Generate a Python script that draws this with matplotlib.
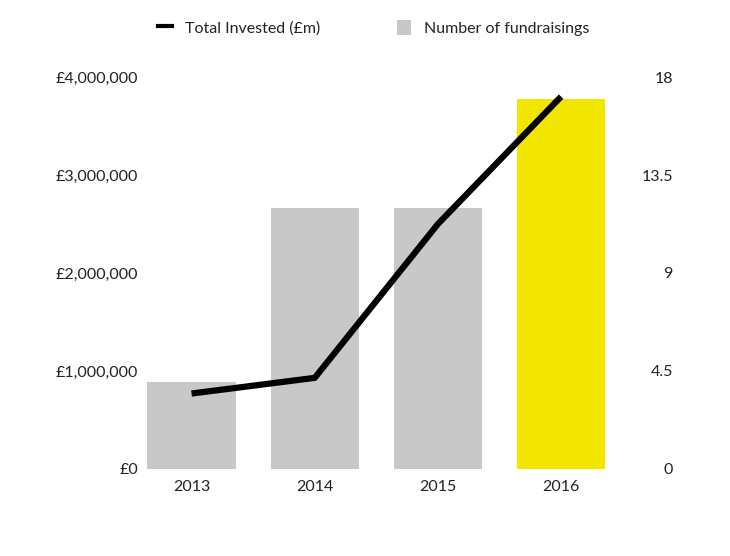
import matplotlib
matplotlib.use("Agg")
import matplotlib.pyplot as plt
from matplotlib.ticker import FuncFormatter

plt.rcParams['font.family'] = ['Lato', 'DejaVu Sans']

years = ['2013', '2014', '2015', '2016']
fundraisings = [4, 12, 12, 17]
invested = [770000, 930000, 2500000, 3800000]
bar_colors = ['#c8c8c8', '#c8c8c8', '#c8c8c8', '#f2e600']

fig = plt.figure(figsize=(7.3, 5.56), dpi=100)
ax = fig.add_axes([0.178, 0.1565, 0.675, 0.705])
ax2 = ax.twinx()

x = range(len(years))
bars = ax2.bar(x, fundraisings, width=0.715, color=bar_colors, zorder=1,
               label='Number of fundraisings')
line, = ax.plot(x, invested, color='black', lw=4.5, solid_capstyle='butt',
                zorder=3, label='Total Invested (£m)')
ax.set_zorder(ax2.get_zorder() + 1)
ax.patch.set_visible(False)

ax.set_xlim(-0.5, 3.5)
ax.set_ylim(0, 4000000)
ax.set_yticks([0, 1000000, 2000000, 3000000, 4000000])
ax.yaxis.set_major_formatter(FuncFormatter(lambda v, p: '£{:,.0f}'.format(v)))
ax2.set_ylim(0, 18)
ax2.set_yticks([0, 4.5, 9, 13.5, 18])
ax2.set_yticklabels(['0', '4.5', '9', '13.5', '18'], ha='right')
ax.set_xticks(list(x))
ax.set_xticklabels(years)

txt = '#222222'
for a in (ax, ax2):
    for s in a.spines.values():
        s.set_visible(False)
    a.tick_params(length=0, labelsize=11.5, colors=txt)
ax.tick_params(axis='y', pad=-6)
ax.tick_params(axis='x', pad=8)
ax2.tick_params(axis='y', pad=36)

leg_line = plt.Line2D([], [], color='black', lw=3)
fig.legend([leg_line, bars[0]], ['Total Invested (£m)', 'Number of fundraisings'],
           loc='upper center', bbox_to_anchor=(0.512, 0.99), ncol=2, frameon=False,
           fontsize=11.5, handlelength=0.9, handleheight=1.1, columnspacing=4.8,
           labelcolor=txt)

fig.savefig('out.png', dpi=100, facecolor='white')
